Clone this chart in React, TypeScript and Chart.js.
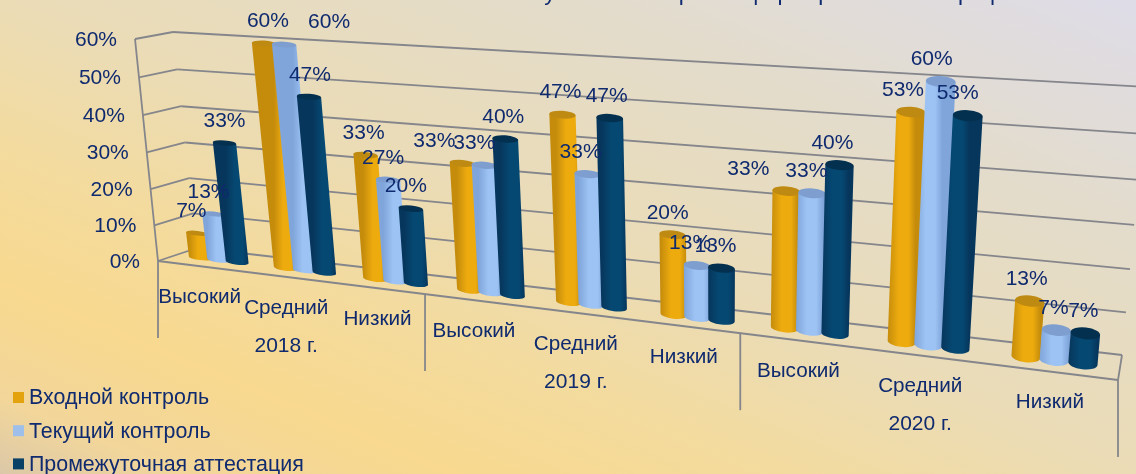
import React, { useEffect, useRef } from "react";
import { Chart, registerables } from "chart.js";

Chart.register(...registerables);

const categories = ["Высокий", "Средний", "Низкий", "Высокий", "Средний", "Низкий", "Высокий", "Средний", "Низкий"];
const years = ["2018 г.", "2019 г.", "2020 г."];
const entryControl = [7, 60, 33, 33, 47, 20, 33, 53, 13];
const currentControl = [13, 60, 27, 33, 33, 13, 33, 60, 7];
const interimAttestation = [33, 47, 20, 40, 47, 13, 40, 53, 7];
const clippedTitle = "Результаты контроля сформированности профессиональных компетенций";

// Horizontal nudges of the value labels (the original deck moved some by hand).
const nudgeEntry = [0, 10, 4, -22, 4, 1, -32, -2, 3];
const nudgeCurrent = [1, 51, 1, -4, -1, -1, 0, -3, 3];
const nudgeInterim = [6, 7, 1, 4, 3, 0, -1, -4, 4];

const TEXT = "#0F2A6E";
const GRID = "#85868C";
const FONT = "'Liberation Sans', Arial, sans-serif";
const COLORS = [
  { solid: "#E3A30F", edge: "#C58C0C", mid: "#EDAB0E", top: "#BE8A12" },
  { solid: "#9DBFEA", edge: "#7FA5DA", mid: "#9DC3F4", top: "#7D9ECF" },
  { solid: "#0A3F66", edge: "#07365C", mid: "#054872", top: "#03304F" },
];

type P = [number, number];
// Perspective of the picture: maps the unit square onto a screen quad (BL, BR, TR, TL).
function perspective(p0: P, p1: P, p2: P, p3: P) {
  const dx1 = p1[0] - p2[0], dx2 = p3[0] - p2[0], sx = p0[0] - p1[0] + p2[0] - p3[0];
  const dy1 = p1[1] - p2[1], dy2 = p3[1] - p2[1], sy = p0[1] - p1[1] + p2[1] - p3[1];
  const den = dx1 * dy2 - dx2 * dy1;
  const g = (sx * dy2 - dx2 * sy) / den;
  const h = (dx1 * sy - sx * dy1) / den;
  const a = p1[0] - p0[0] + g * p1[0], b = p3[0] - p0[0] + h * p3[0];
  const d = p1[1] - p0[1] + g * p1[1], e = p3[1] - p0[1] + h * p3[1];
  return (u: number, v: number): P => {
    const w = g * u + h * v + 1;
    return [(a * u + b * v + p0[0]) / w, (d * u + e * v + p0[1]) / w];
  };
}
const frontPlane = perspective([158, 261], [1118, 380], [1143, 95], [135, 39]);
const backPlane = perspective([197, 248], [1122, 355], [1147, 87], [173, 32]);
const barPlane = perspective([177, 255], [1120, 368], [1145, 93], [151, 37]);

const line = (ctx: CanvasRenderingContext2D, a: P, b: P) => {
  ctx.beginPath();
  ctx.moveTo(a[0], a[1]);
  ctx.lineTo(b[0], b[1]);
  ctx.stroke();
};

function norm(chart: any) {
  const { left, right, top, bottom } = chart.chartArea;
  return {
    u: (x: number) => (x - left) / (right - left),
    v: (y: number) => (bottom - y) / (bottom - top),
  };
}

function drawCylinders(chart: any, index: number) {
  const ctx: CanvasRenderingContext2D = chart.ctx;
  const { u, v } = norm(chart);
  const c = COLORS[index];
  ctx.save();
  for (const el of chart.getDatasetMeta(index).data as any[]) {
    const widen = 1.24 - 0.24 * u(el.x);
    const half = (el.width / 2) * widen;
    const uL = u(el.x - half), uR = u(el.x + half);
    const vT = v(el.y), vB = v(el.base);
    const bL = barPlane(uL, vB), bR = barPlane(uR, vB);
    const tL = barPlane(uL, vT), tR = barPlane(uR, vT);
    const flat = 0.2 + 0.2 * u(el.x);
    const ell = (a: P, b: P, start: number, end: number, ccw: boolean) => {
      const cx = (a[0] + b[0]) / 2, cy = (a[1] + b[1]) / 2;
      const rx = Math.hypot(b[0] - a[0], b[1] - a[1]) / 2;
      const rot = Math.atan2(b[1] - a[1], b[0] - a[0]);
      ctx.ellipse(cx, cy, rx, rx * flat, rot, start, end, ccw);
    };
    const grad = ctx.createLinearGradient(bL[0], 0, bR[0], 0);
    grad.addColorStop(0, c.edge);
    grad.addColorStop(0.4, c.mid);
    grad.addColorStop(0.75, c.mid);
    grad.addColorStop(1, c.edge);
    ctx.fillStyle = grad;
    ctx.beginPath();
    ctx.moveTo(tL[0], tL[1]);
    ctx.lineTo(bL[0], bL[1]);
    ell(bL, bR, Math.PI, 0, true);
    ctx.lineTo(tR[0], tR[1]);
    ctx.closePath();
    ctx.fill();
    ctx.fillStyle = c.top;
    ctx.beginPath();
    ell(tL, tR, 0, Math.PI * 2, false);
    ctx.fill();
  }
  ctx.restore();
}

const scene = {
  id: "scene",
  beforeDatasetsDraw(chart: any) {
    const ctx: CanvasRenderingContext2D = chart.ctx;
    const { u, v } = norm(chart);
    const yScale = chart.scales.y;
    const xScale = chart.scales.x;
    ctx.save();
    ctx.strokeStyle = GRID;
    ctx.lineWidth = 1.8;
    for (const t of yScale.ticks) {
      const vv = v(yScale.getPixelForValue(t.value));
      line(ctx, frontPlane(0, vv), backPlane(0, vv));
      line(ctx, backPlane(0, vv), backPlane(1, vv));
    }
    line(ctx, frontPlane(0, 0), frontPlane(0, 1));
    line(ctx, frontPlane(0, 0), frontPlane(1, 0));
    line(ctx, frontPlane(1, 0), backPlane(1, 0));
    const per = categories.length / years.length;
    for (let i = 0; i <= years.length; i++) {
      const px = xScale.left + ((xScale.right - xScale.left) * i) / years.length;
      const p = frontPlane(u(px), 0);
      line(ctx, p, [p[0], p[1] + 77]);
    }
    // value-axis labels follow the tilted front edge
    ctx.fillStyle = TEXT;
    ctx.font = `21px ${FONT}`;
    ctx.textAlign = "right";
    ctx.textBaseline = "middle";
    for (const t of yScale.ticks) {
      const p = frontPlane(0, v(yScale.getPixelForValue(t.value)));
      ctx.fillText(String(t.label), p[0] - 18, p[1] + 1);
    }
    // category labels and years
    ctx.textAlign = "center";
    categories.forEach((c, i) => {
      const p = frontPlane(u(xScale.getPixelForValue(i)), 0);
      ctx.font = `20.7px ${FONT}`;
      ctx.fillText(c, p[0], p[1] + 31);
      if (i % per === Math.floor(per / 2)) {
        ctx.font = `21px ${FONT}`;
        ctx.fillText(years[Math.floor(i / per)], p[0], p[1] + 69);
      }
    });
    ctx.font = `22.6px ${FONT}`;
    ctx.textAlign = "left";
    ctx.textBaseline = "alphabetic";
    ctx.fillText(clippedTitle, 508, 0);
    // legend, stacked in the lower left corner
    ctx.font = `21.4px ${FONT}`;
    ctx.textBaseline = "middle";
    chart.data.datasets.forEach((ds: any, i: number) => {
      const y = 397.5 + i * 33.2;
      ctx.fillStyle = ds.backgroundColor;
      ctx.fillRect(13, y - 5.5, 11, 11);
      ctx.fillStyle = TEXT;
      ctx.fillText(ds.label, 29, y + 1);
    });
    ctx.restore();
  },
  beforeDatasetDraw() {
    return false;
  },
  afterDatasetsDraw(chart: any) {
    chart.data.datasets.forEach((_: any, d: number) => drawCylinders(chart, d));
    const ctx: CanvasRenderingContext2D = chart.ctx;
    const { u, v } = norm(chart);
    const nudges = [nudgeEntry, nudgeCurrent, nudgeInterim];
    ctx.save();
    ctx.fillStyle = TEXT;
    ctx.font = `21px ${FONT}`;
    ctx.textAlign = "center";
    ctx.textBaseline = "middle";
    chart.data.datasets.forEach((ds: any, d: number) => {
      chart.getDatasetMeta(d).data.forEach((el: any, i: number) => {
        const p = barPlane(u(el.x), v(el.y));
        ctx.fillText(`${ds.data[i]}%`, p[0] - 6 + nudges[d][i], p[1] - 22);
      });
    });
    ctx.restore();
  },
};

export default function App() {
  const ref = useRef<HTMLCanvasElement>(null);
  useEffect(() => {
    document.body.style.margin = "0";
    const chart = new Chart(ref.current!, {
      type: "bar",
      data: {
        labels: categories,
        datasets: [
          { label: "Входной контроль", data: entryControl, backgroundColor: COLORS[0].solid },
          { label: "Текущий контроль", data: currentControl, backgroundColor: COLORS[1].solid },
          { label: "Промежуточная аттестация", data: interimAttestation, backgroundColor: COLORS[2].solid },
        ],
      },
      options: {
        responsive: false,
        animation: false,
        layout: { padding: 0 },
        datasets: { bar: { barPercentage: 1, categoryPercentage: 0.66 } },
        scales: {
          x: { display: false },
          y: { display: false, min: 0, max: 60, ticks: { stepSize: 10, callback: (v: any) => `${v}%` } },
        },
        plugins: {
          tooltip: { enabled: false },
          legend: { display: false },
        },
      },
      plugins: [scene],
    } as any);
    return () => chart.destroy();
  }, []);
  return (
    <div
      style={{
        width: 1136,
        height: 474,
        overflow: "hidden",
        background:
          "linear-gradient(to top right, #DCC8A8 0%, #F2D69A 8%, #F8D98F 20%, #F3DB9F 35%, #EBDCB6 50%, #E3DCCB 75%, #DEDCE8 100%)",
      }}
    >
      <canvas ref={ref} width={1136} height={474} style={{ display: "block", filter: "blur(0.4px)" }} />
    </div>
  );
}
